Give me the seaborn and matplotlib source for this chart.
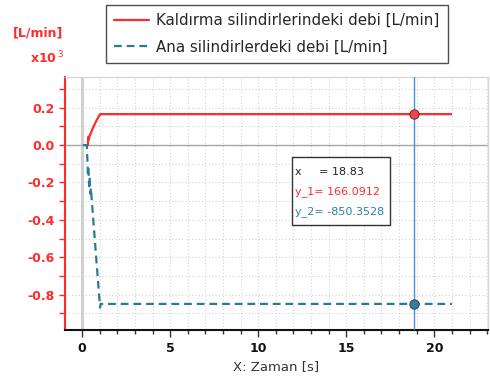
import numpy as np
import pandas as pd
import matplotlib
matplotlib.use("Agg")
import matplotlib.pyplot as plt
from matplotlib.ticker import MultipleLocator
from matplotlib.patches import Rectangle
from matplotlib.lines import Line2D
import seaborn as sns

# ---- data (L/min) ----
lift_t = [0.25, 0.33, 0.36, 0.38, 0.42, 0.50, 0.64, 0.83, 1.02, 21.0]
lift_q = [0.0, 0.0, 45.0, 30.0, 48.0, 65.0, 98.0, 134.0, 166.0912, 166.0912]
main_t = [0.05, 0.27, 0.30, 0.33, 0.36, 0.40, 0.43, 0.47, 0.50, 0.55, 1.02, 1.05, 21.0]
main_q = [0.0, 0.0, -80.0, -150.0, -120.0, -220.0, -180.0, -260.0, -230.0, -295.0,
          -870.0, -850.3528, -850.3528]
labels = ["Kaldırma silindirlerindeki debi [L/min]", "Ana silindirlerdeki debi [L/min]"]
cursor_x = 18.83
cursor_y1 = 166.0912
cursor_y2 = -850.3528

RED = "#ff2a2a"
TEAL = "#287a96"

sns.set_style("white")
plt.rcParams["font.family"] = ["DejaVu Sans"]

df = pd.concat([
    pd.DataFrame({"t": lift_t, "q": np.array(lift_q) / 1000.0, "s": labels[0]}),
    pd.DataFrame({"t": main_t, "q": np.array(main_q) / 1000.0, "s": labels[1]}),
])

fig = plt.figure(figsize=(4.9, 3.83), dpi=100)
ax = fig.add_axes([65 / 490, 53 / 383, 423 / 490, 253 / 383])

sns.lineplot(data=df, x="t", y="q", hue="s", style="s",
             palette=[RED, TEAL], dashes=[(1, 0), (3.5, 2.2)],
             sort=False, estimator=None, linewidth=1.6, ax=ax, legend=False)

ax.set_xlim(-0.97, 23.05)
ax.set_ylim(-0.99, 0.365)

# grids
ax.xaxis.set_major_locator(MultipleLocator(5))
ax.xaxis.set_minor_locator(MultipleLocator(1))
ax.yaxis.set_major_locator(MultipleLocator(0.2))
ax.yaxis.set_minor_locator(MultipleLocator(0.1))
ax.grid(which="both", color="#d4d4d4", linestyle=(0, (1, 2)), linewidth=0.8)
ax.set_axisbelow(True)
ax.axvline(0, color="#d0d0d0", linewidth=2.2, zorder=1)
ax.axhline(0, color="#a8a8a8", linewidth=1.0, zorder=1)

# cursor
ax.axvline(cursor_x, color="#4a8fdc", linewidth=1.0, zorder=3)
ax.scatter([cursor_x], [cursor_y1 / 1000], s=45, color="#f04848", edgecolor="#502020",
           linewidth=0.6, zorder=5)
ax.scatter([cursor_x], [cursor_y2 / 1000], s=45, color="#3a7f98", edgecolor="#1a3040",
           linewidth=0.6, zorder=5)

# spines
for side in ["top", "right"]:
    ax.spines[side].set_color("#d8d8d8")
    ax.spines[side].set_linewidth(1.0)
ax.spines["left"].set_color(RED)
ax.spines["left"].set_linewidth(1.5)
ax.spines["bottom"].set_color("#111111")
ax.spines["bottom"].set_linewidth(1.5)

ax.yaxis.set_major_formatter(matplotlib.ticker.FuncFormatter(lambda v, p: f"{v:.1f}"))
ax.tick_params(axis="y", which="both", colors=RED, direction="out", length=4, width=1,
               left=True, labelsize=9)
ax.tick_params(axis="x", which="major", colors="#333333", direction="out", length=5, width=1,
               bottom=True, labelsize=9)
ax.tick_params(axis="x", which="minor", colors="#333333", direction="out", length=3, width=1,
               bottom=True)
for lbl in ax.get_yticklabels():
    lbl.set_fontweight("bold")
    lbl.set_color(RED)
for lbl in ax.get_xticklabels():
    lbl.set_fontweight("bold")
    lbl.set_color("#111111")

ax.set_xlabel("X: Zaman [s]", fontsize=9.5, color="#333333", labelpad=4)
ax.set_ylabel("")

fig.text(38 / 490, 1 - 33 / 383, "[L/min]", color=RED, fontsize=9, fontweight="bold",
         ha="center", va="center")
fig.text(47 / 490, 1 - 58 / 383, r"x10$^{\,3}$", color=RED, fontsize=9, fontweight="bold",
         ha="center", va="center")

# legend
handles = [Line2D([], [], color=RED, linewidth=1.6),
           Line2D([], [], color=TEAL, linewidth=1.6, linestyle=(0, (3.5, 2.2)))]
leg = fig.legend(handles, labels, loc="upper left", bbox_to_anchor=(106 / 490, 1 - 5 / 383),
                 fontsize=10.8, frameon=True, fancybox=False, handlelength=2.3,
                 borderpad=0.55, labelspacing=0.75, handletextpad=0.5, borderaxespad=0)
leg.get_frame().set_edgecolor("#222222")
leg.get_frame().set_linewidth(1.0)

# readout box
bx0, bx1 = (292 - 65) / 423, (390 - 65) / 423
by0, by1 = (330 - 225) / 253, (330 - 157) / 253
ax.add_patch(Rectangle((bx0, by0), bx1 - bx0, by1 - by0, transform=ax.transAxes,
                       facecolor="white", edgecolor="#333333", linewidth=1.0, zorder=6))
tx = (295 - 65) / 423
rows = [(330 - 172) / 253, (330 - 192) / 253, (330 - 212) / 253]
ax.text(tx, rows[0], f"x     = {cursor_x:.2f}", transform=ax.transAxes, fontsize=8,
        color="#222222", va="center", ha="left", zorder=7)
ax.text(tx, rows[1], f"y_1= {cursor_y1:.4f}", transform=ax.transAxes, fontsize=8,
        color=RED, va="center", ha="left", zorder=7)
ax.text(tx, rows[2], f"y_2= {cursor_y2:.4f}", transform=ax.transAxes, fontsize=8,
        color="#2b7ea8", va="center", ha="left", zorder=7)

fig.savefig("out.png", dpi=100)
